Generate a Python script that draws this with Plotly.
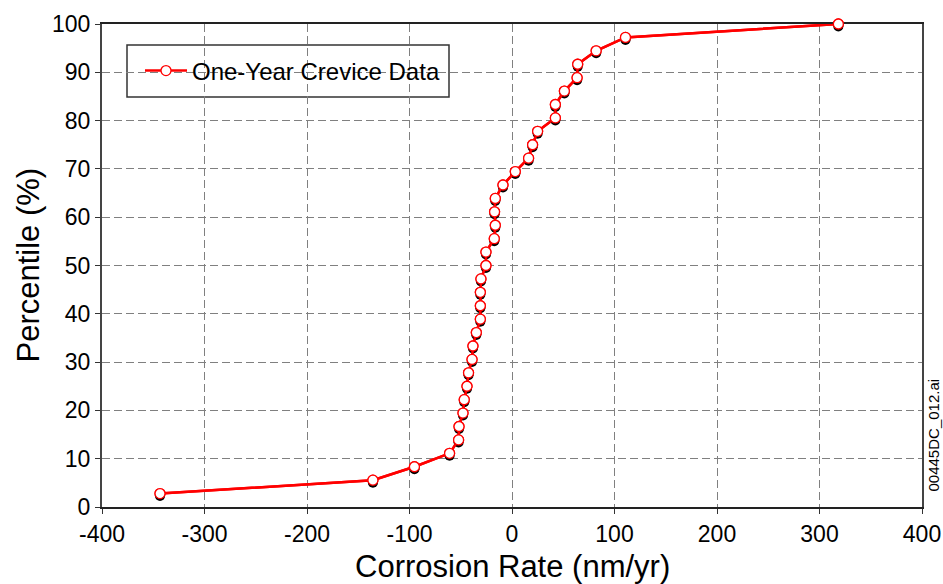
import plotly.graph_objects as go

# Data
corrosion_rate = [
    -343.4, -135.7, -95.2, -60.9, -52.1, -51.7, -47.8, -46.6, -43.9, -42.4,
    -39.0, -38.1, -34.8, -30.9, -30.9, -30.9, -30.3, -25.4, -25.4, -17.3,
    -16.3, -17.0, -16.3, -8.8, 3.2, 16.2, 20.1, 25.0, 42.3, 42.3,
    51.1, 63.5, 64.1, 82.1, 110.7, 318.4,
]
n_points = len(corrosion_rate)
percentile = [100.0 * (i + 1) / n_points for i in range(n_points)]

series_name = "One-Year Crevice Data"
x_title = "Corrosion Rate (nm/yr)"
y_title = "Percentile (%)"
x_ticks = [-400, -300, -200, -100, 0, 100, 200, 300, 400]
x_tick_labels = ["-400", "-300", "-200", "-100", "0", "100", "200", "300", "400"]
y_ticks = [0, 10, 20, 30, 40, 50, 60, 70, 80, 90, 100]
y_tick_labels = ["0", "10", "20", "30", "40", "50", "60", "70", "80", "90", "100"]
file_tag = "00445DC_012.ai"

FONT = "Liberation Sans, Arial, sans-serif"
W, H = 943, 584
ml, mr, mt, mb = 102, 21, 24, 77
pw, ph = W - ml - mr, H - mt - mb
xr = [-400, 400]
yr = [0, 100]
sx_px, sy_px = 3.0, 2.5  # shadow offset in pixels
x_per_px = (xr[1] - xr[0]) / pw
y_per_px = (yr[1] - yr[0]) / ph

red_line = dict(color="#ff0000", width=2.5)
red_marker = dict(symbol="circle", size=10, color="white",
                  line=dict(color="#ff0000", width=1.3))

fig = go.Figure()

# main series on the visible axes (provides legend)
fig.add_trace(go.Scatter(
    x=corrosion_rate, y=percentile, mode="lines+markers", name=series_name,
    line=red_line, marker=red_marker, cliponaxis=False,
))

# shadow markers (offset overlay subplot)
fig.add_trace(go.Scatter(
    x=corrosion_rate, y=percentile, mode="markers",
    marker=dict(symbol="circle", size=10, color="black", line=dict(width=0)),
    xaxis="x2", yaxis="y2", showlegend=False, hoverinfo="skip", cliponaxis=False,
))

# series redrawn on top of the shadows
fig.add_trace(go.Scatter(
    x=corrosion_rate, y=percentile, mode="lines+markers", name=series_name,
    line=red_line, marker=red_marker, xaxis="x3", yaxis="y3",
    showlegend=False, cliponaxis=False,
))

axis_font = dict(family=FONT, size=23, color="black")
title_font = dict(family=FONT, size=31, color="black")
grid = dict(showgrid=True, gridcolor="#808080", gridwidth=1, griddash="8px,4px",
            zeroline=False, automargin=False)

fig.update_layout(
    width=W, height=H,
    margin=dict(l=ml, r=mr, t=mt, b=mb, pad=0, autoexpand=False),
    paper_bgcolor="white", plot_bgcolor="rgba(0,0,0,0)",
    font=dict(family=FONT, color="black"),
    xaxis=dict(range=xr, tickvals=x_ticks, ticktext=x_tick_labels, ticks="outside",
               ticklen=5, tickcolor="#333", tickfont=axis_font, showline=True,
               mirror=True, linecolor="#222", linewidth=2, domain=[0, 1], **grid),
    yaxis=dict(range=yr, tickvals=y_ticks, ticktext=y_tick_labels, ticks="outside",
               ticklen=5, tickcolor="#333", tickfont=axis_font, showline=True,
               mirror=True, linecolor="#444", linewidth=2, domain=[0, 1], **grid),
    xaxis2=dict(range=[xr[0] + sx_px * x_per_px, xr[1]], domain=[sx_px / pw, 1],
                visible=False, anchor="y2", automargin=False),
    yaxis2=dict(range=[yr[0] + sy_px * y_per_px, yr[1]], domain=[0, 1 - sy_px / ph],
                visible=False, anchor="x2", automargin=False),
    xaxis3=dict(range=xr, domain=[0, 1], visible=False, anchor="y3", automargin=False),
    yaxis3=dict(range=yr, domain=[0, 1], visible=False, anchor="x3", automargin=False),
    legend=dict(x=(140 - 102) / pw, y=(507 - 71) / ph, xanchor="left", yanchor="middle",
                bgcolor="rgba(0,0,0,0)", borderwidth=0, itemwidth=42,
                font=dict(family=FONT, size=24, color="black")),
    showlegend=True,
)

# legend frame
fig.add_shape(type="rect", xref="paper", yref="paper",
              x0=(127 - 102) / pw, x1=(449 - 102) / pw,
              y0=(507 - 97) / ph, y1=(507 - 45) / ph,
              line=dict(color="#333", width=1.5), fillcolor="white", layer="between")

# axis titles
fig.add_annotation(text=x_title, xref="paper", yref="paper", x=0.5, y=-(566 - 507) / ph,
                   xanchor="center", yanchor="middle", showarrow=False, font=title_font)
fig.add_annotation(text=y_title, xref="paper", yref="paper", x=-(102 - 28) / pw, y=0.5,
                   xanchor="center", yanchor="middle", textangle=-90, showarrow=False,
                   font=title_font)

# file tag
fig.add_annotation(
    text=file_tag, xref="paper", yref="paper",
    x=1 + 11 / pw, y=(507 - 494) / ph, xanchor="center", yanchor="bottom",
    textangle=-90, showarrow=False, font=dict(family=FONT, size=15, color="black"),
)

fig.write_html("out.html", config={"displayModeBar": False},
               post_script="document.body.style.margin='0px';")
